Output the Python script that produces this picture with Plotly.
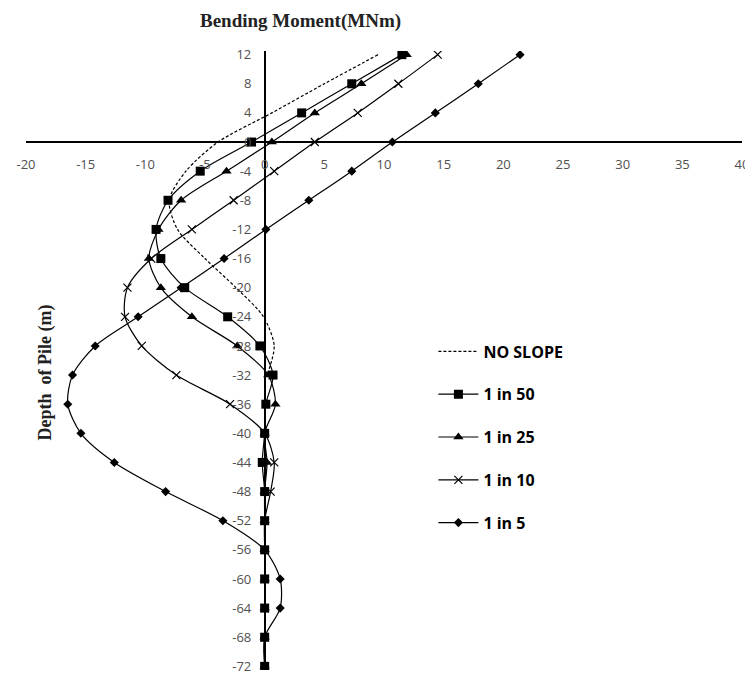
import plotly.graph_objects as go

depth = [12, 8, 4, 0, -4, -8, -12, -16, -20, -24, -28, -32, -36, -40, -44, -48, -52, -56, -60, -64, -68, -72]

no_slope_depth = [12, 8, 4, 0, -4, -8, -12, -16, -20, -24, -28, -32]
no_slope = [9.5, 5.0, 0.6, -3.9, -6.6, -8.0, -7.3, -5.0, -2.4, -0.1, 0.8, 0.2]

slope_1_in_50 = [11.5, 7.3, 3.1, -1.1, -5.4, -8.1, -9.1, -8.7, -6.7, -3.1, -0.4, 0.7, 0.1, 0, -0.2, 0, 0, 0, 0, 0, 0, 0]
slope_1_in_25 = [11.9, 8.1, 4.2, 0.6, -3.2, -7.0, -8.9, -9.7, -8.7, -6.1, -2.3, 0.3, 0.9, 0, 0.2, 0, 0, 0, 0, 0, 0, 0]
slope_1_in_10 = [14.5, 11.2, 7.8, 4.2, 0.8, -2.6, -6.1, -9.5, -11.5, -11.7, -10.3, -7.4, -2.9, 0, 0.8, 0.5, 0, 0, 0, 0, 0, 0]
slope_1_in_5 = [21.4, 17.9, 14.3, 10.7, 7.3, 3.7, 0.1, -3.4, -7.0, -10.6, -14.2, -16.1, -16.5, -15.4, -12.6, -8.3, -3.5, 0, 1.3, 1.3, 0, 0]

x_ticks = [-20, -15, -10, -5, 0, 5, 10, 15, 20, 25, 30, 35, 40]
y_ticks = [12, 8, 4, 0, -4, -8, -12, -16, -20, -24, -28, -32, -36, -40, -44, -48, -52, -56, -60, -64, -68, -72]

fig = go.Figure()

line_style = dict(color="black", width=1.2, shape="spline", smoothing=0.8)

fig.add_trace(go.Scatter(x=no_slope, y=no_slope_depth, mode="lines", name="NO SLOPE",
                         line=dict(color="black", width=1.2, dash="3px,2px", shape="spline", smoothing=0.8),
                         legendgroup="a"))
fig.add_trace(go.Scatter(x=slope_1_in_50, y=depth, mode="lines+markers", name="1 in 50",
                         line=line_style, marker=dict(symbol="square", size=9, color="black"),
                         legendgroup="b"))
fig.add_trace(go.Scatter(x=slope_1_in_25, y=depth, mode="lines+markers", name="1 in 25",
                         line=line_style, marker=dict(symbol="triangle-up", size=9, color="black"),
                         legendgroup="c"))
fig.add_trace(go.Scatter(x=slope_1_in_10, y=depth, mode="lines+markers", name="1 in 10",
                         line=line_style, marker=dict(symbol="x-thin", size=8, color="black",
                                                      line=dict(color="black", width=1.2)),
                         legendgroup="d"))
fig.add_trace(go.Scatter(x=slope_1_in_5, y=depth, mode="lines+markers", name="1 in 5",
                         line=line_style, marker=dict(symbol="diamond", size=7, color="black"),
                         legendgroup="e"))

x_min, x_max = -20, 40
y_min, y_max = -72.5, 12.5

# page body has an 8px default margin; compensate so the plot lands where the reference has it
fig.update_layout(
    width=745, height=670,
    margin=dict(l=18, r=11, t=43, b=3),
    paper_bgcolor="white", plot_bgcolor="white",
    showlegend=True,
    legend=dict(x=0.569, y=0.542, xanchor="left", yanchor="top",
                font=dict(family="Open Sans", size=16, color="black", weight="bold"),
                tracegroupgap=19, bgcolor="rgba(0,0,0,0)", itemwidth=40),
    xaxis=dict(range=[x_min, x_max], tickvals=x_ticks, ticktext=[str(v) for v in x_ticks],
               showgrid=False, zeroline=False, showline=True, linecolor="black", linewidth=1.5,
               anchor="free", position=(0 - y_min) / (y_max - y_min),
               ticks="", ticklabelstandoff=11, ticklabeloverflow="allow",
               tickfont=dict(family="Open Sans", size=13, color="#505050")),
    yaxis=dict(range=[y_min, y_max], tickvals=y_ticks, ticktext=[str(v) for v in y_ticks],
               showgrid=False, zeroline=False, showline=True, linecolor="black", linewidth=1.5,
               anchor="free", position=(0 - x_min) / (x_max - x_min),
               ticks="", ticklabelstandoff=10, ticklabeloverflow="allow",
               tickfont=dict(family="Open Sans", size=13, color="#505050")),
    annotations=[
        dict(text="<b>Bending Moment(MNm)</b>", xref="paper", yref="paper",
             x=(300 - 26) / 716, y=1 + (51 - 21) / 624, xanchor="center", yanchor="middle",
             showarrow=False, font=dict(family="Liberation Serif", size=19, color="#222222")),
        dict(text="<b>Depth  of Pile (m)</b>", xref="paper", yref="paper",
             x=(45 - 26) / 716, y=1 - (375 - 51) / 624, xanchor="center", yanchor="middle",
             textangle=-90, showarrow=False,
             font=dict(family="Liberation Serif", size=18, color="#222222")),
    ],
)

fig.write_html("out.html")
